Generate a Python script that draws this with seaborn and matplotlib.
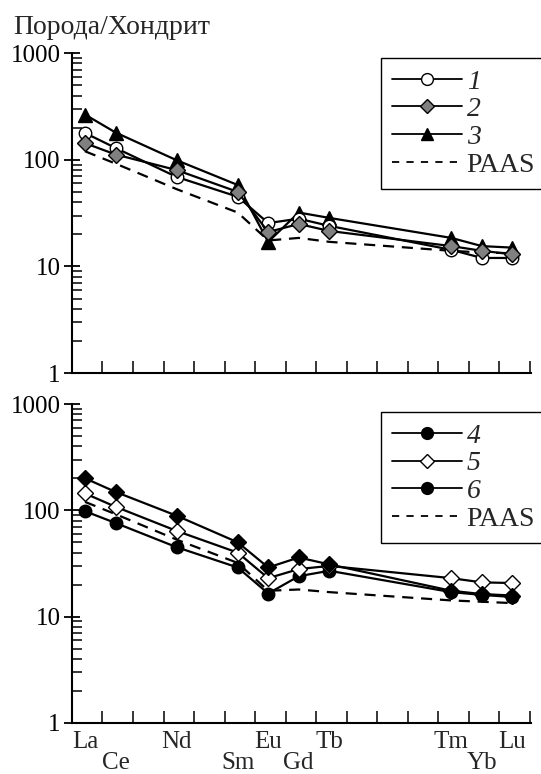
import numpy as np
import pandas as pd
import matplotlib
matplotlib.use("Agg")
import matplotlib.pyplot as plt
from matplotlib.lines import Line2D
from matplotlib.ticker import LogLocator, NullFormatter, FixedLocator
import seaborn as sns

# ---- data ----
elements = ["La", "Ce", "Nd", "Sm", "Eu", "Gd", "Tb", "Tm", "Yb", "Lu"]
element_pos = [0, 1, 3, 5, 6, 7, 8, 12, 13, 14]
tick_labels = ["La", "\nCe", "Nd", "\nSm", "Eu", "\nGd", "Tb", "Tm", "\nYb", "Lu"]

s1 = [178, 129, 69, 45, 25.5, 28, 24, 14.3, 12, 12]
s2 = [143, 112, 80, 50, 21, 25, 21.5, 15.5, 14, 13]
s3 = [265, 180, 99, 58, 17, 32, 28.5, 18.5, 15.5, 15]
paas_top = [120, 92, 53, 32, 17.5, 18.5, 17, 14, 13.5, 13.3]

s4 = [200, 149, 89, 50, 29, 36, 31, 17.5, 16.3, 15.8]
s5 = [144, 108, 64, 40, 23, 28, 30, 23, 21, 20.7]
s6 = [98, 76, 45, 29, 16.5, 24, 27, 17, 16, 15.3]
paas_bot = [120, 92, 53, 32, 17.5, 18, 17, 14.2, 13.8, 13.4]

legend_top = ["1", "2", "3", "PAAS"]
legend_bot = ["4", "5", "6", "PAAS"]

sns.set_style("ticks")
plt.rcParams["font.family"] = ["Liberation Serif", "DejaVu Serif"]

FS = 18
LFS = 20
fig = plt.figure(figsize=(5.41, 7.74), dpi=100)
ax1 = fig.add_axes([0.133, 0.518, 0.848, 0.4134])
ax2 = fig.add_axes([0.133, 0.066, 0.848, 0.412])

LW = 1.6
MS = 9


def series(ax, vals, marker, fc, ms=MS, ls="-", mew=1.0, z=3):
    df = pd.DataFrame({"x": element_pos, "y": vals})
    kw = dict(color="black", lw=LW, linestyle=ls, ax=ax, legend=False, zorder=z)
    if marker is not None:
        kw.update(marker=marker, markersize=ms, markerfacecolor=fc,
                  markeredgecolor="black", markeredgewidth=mew)
    sns.lineplot(data=df, x="x", y="y", **kw)


# top panel
series(ax1, paas_top, None, None, ls=(0, (5, 3.5)), z=2)
series(ax1, s3, "^", "black", ms=10)
series(ax1, s1, "o", "white")
series(ax1, s2, "D", "#808080", ms=8)

# bottom panel
series(ax2, paas_bot, None, None, ls=(0, (5, 3.5)), z=2)
series(ax2, s6, "o", "black")
series(ax2, s5, "D", "white", ms=8)
series(ax2, s4, "D", "black", ms=8)

for ax in (ax1, ax2):
    ax.set_yscale("log")
    ax.set_ylim(1, 1000)
    ax.set_xlim(-0.43, 14.6)
    ax.set_xlabel("")
    ax.set_ylabel("")
    for s in ["top", "right"]:
        ax.spines[s].set_visible(False)
    for s in ["left", "bottom"]:
        ax.spines[s].set_linewidth(1.5)
        ax.spines[s].set_color("black")
    ax.yaxis.set_major_locator(FixedLocator([1, 10, 100, 1000]))
    ax.set_yticklabels(["1", "10", "100", "1000"])
    ax.yaxis.set_minor_locator(LogLocator(base=10, subs=np.arange(2, 10)))
    ax.yaxis.set_minor_formatter(NullFormatter())
    ax.tick_params(axis="y", which="major", direction="inout", length=12, width=1.3,
                   labelsize=FS, pad=2, colors="black")
    ax.tick_params(axis="y", which="minor", direction="in", length=7, width=1.3)
    ax.set_xticks(element_pos)
    ax.xaxis.set_minor_locator(FixedLocator(np.arange(-0.43, 14.7, 1.0)))
    ax.tick_params(axis="x", which="major", length=0, labelsize=FS, pad=6)
    ax.tick_params(axis="x", which="minor", direction="in", length=9, width=1.3)

ax1.set_xticklabels([])
ax2.set_xticklabels(tick_labels)
for lab in ax2.get_xticklabels():
    lab.set_linespacing(0.9)

fig.text(0.024, 1 - 27 / 774, "Порода/Хондрит", fontsize=20, va="center", ha="left")


def make_handles(specs):
    hs = []
    for marker, fc, ms, ls in specs:
        hs.append(Line2D([], [], color="black", lw=1.3, linestyle=ls, marker=marker,
                         markersize=ms, markerfacecolor=fc, markeredgecolor="black",
                         markeredgewidth=1.0))
    return hs


h_top = make_handles([("o", "white", 8.5, "-"), ("D", "#808080", 7, "-"),
                      ("^", "black", 9, "-"), (None, "none", 0, (0, (4, 4)))])
h_bot = make_handles([("o", "black", 8.5, "-"), ("D", "white", 7, "-"),
                      ("o", "black", 8.5, "-"), (None, "none", 0, (0, (4, 4)))])

for ax, hs, labs, anchor in [(ax1, h_top, legend_top, (381 / 541, 1 - 58 / 774)),
                             (ax2, h_bot, legend_bot, (381 / 541, 1 - 412 / 774))]:
    leg = ax.legend(hs, labs, loc="upper left", bbox_to_anchor=anchor,
                    bbox_transform=fig.transFigure, fontsize=LFS, frameon=True,
                    fancybox=False, edgecolor="black", framealpha=1,
                    handlelength=2.5, handletextpad=0.18, labelspacing=0.08,
                    borderpad=0.4, borderaxespad=0)
    leg.get_frame().set_linewidth(1.0)
    for t in leg.get_texts()[:3]:
        t.set_fontstyle("italic")

fig.savefig("out.png", dpi=100)
